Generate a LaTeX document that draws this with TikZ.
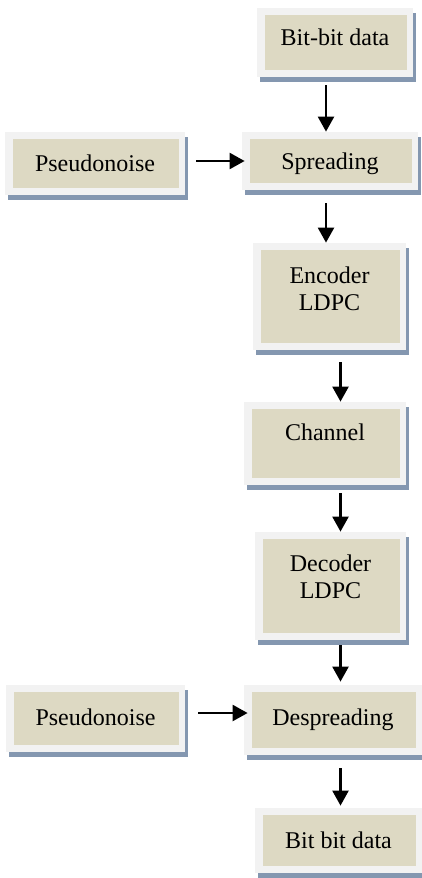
\documentclass[tikz,border=0pt]{standalone}
\usepackage{fontspec}
\setmainfont{Liberation Serif}
\usepackage{xcolor}
\usepackage{tikz}
\usetikzlibrary{shadows,arrows.meta}

\definecolor{framegray}{HTML}{F2F2F2}
\definecolor{tanfill}{HTML}{DDD9C3}
\definecolor{shadowblue}{HTML}{8497B0}

\tikzset{
  blk/.style={fill=framegray, inner sep=0pt, align=center,
    font=\fontsize{12}{13.5}\selectfont,
    drop shadow={shadow xshift=1.5pt, shadow yshift=-2.5pt, fill=shadowblue, opacity=1},
    path picture={\fill[tanfill] ([xshift=4pt,yshift=-3.5pt]path picture bounding box.north west)
      rectangle ([xshift=-3pt,yshift=3.5pt]path picture bounding box.south east);}},
  oneline/.style={text height=8pt, text depth=#1},
  oneline/.default=0pt,
  flow/.style={-{Triangle[length=7.5pt,width=8pt]}, line width=1.2pt}
}

\begin{document}
\begin{tikzpicture}
        \useasboundingbox (0,0) rectangle (211pt,-439pt);

        % Transmitter
        \node[blk, oneline=5.5pt, minimum width=78pt, minimum height=34.5pt] (bitin) at (167.5pt,-21.25pt) {Bit-bit data};
        \node[blk, oneline, minimum width=90pt, minimum height=31.5pt] (pn1) at (47.5pt,-81.75pt) {Pseudonoise};
        \node[blk, oneline, minimum width=88pt, minimum height=29pt] (spread) at (165pt,-80.5pt) {Spreading};
        \node[blk, text depth=7.5pt, minimum width=76.5pt, minimum height=53.5pt] (enc) at (164.75pt,-148.25pt) {Encoder\\LDPC};

        % Channel
        \node[blk, oneline=11.5pt, minimum width=81pt, minimum height=41.5pt] (chan) at (162.5pt,-221.75pt) {Channel};

        % Receiver
        \node[blk, text depth=9.5pt, minimum width=75.5pt, minimum height=54pt] (dec) at (165.25pt,-293pt) {Decoder\\LDPC};
        \node[blk, oneline=1.5pt, minimum width=89.5pt, minimum height=33.5pt] (pn2) at (47.75pt,-359.25pt) {Pseudonoise};
        \node[blk, oneline=2.5pt, minimum width=89pt, minimum height=35pt] (desp) at (166.5pt,-360pt) {Despreading};
        \node[blk, oneline, minimum width=83.5pt, minimum height=32.5pt] (bitout) at (169.25pt,-420.25pt) {Bit bit data};

        % Arrows
        \coordinate (colA) at (163pt,0);
        \coordinate (colB) at (170.25pt,0);
        \coordinate (rowB) at (0,-356.5pt);
        \draw[flow, shorten <=4pt] (bitin.south -| colA) -- (spread.north -| colA);
        \draw[flow, shorten <=5.5pt, shorten >=-1.5pt] (pn1.east |- spread.west) -- (spread.west);
        \draw[flow, shorten <=6.5pt] (spread.south -| colA) -- (enc.north -| colA);
        \draw[flow, shorten <=6pt] (enc.south -| colB) -- (chan.north -| colB);
        \draw[flow, shorten <=4pt] (chan.south -| colB) -- (dec.north -| colB);
        \draw[flow, shorten <=2.5pt, shorten >=1.5pt] (dec.south -| colB) -- (desp.north -| colB);
        \draw[flow, shorten <=6.5pt, shorten >=-2pt] (pn2.east |- rowB) -- (desp.west |- rowB);
        \draw[flow, shorten <=6.5pt, shorten >=1pt] (desp.south -| colB) -- (bitout.north -| colB);
\end{tikzpicture}
\end{document}
